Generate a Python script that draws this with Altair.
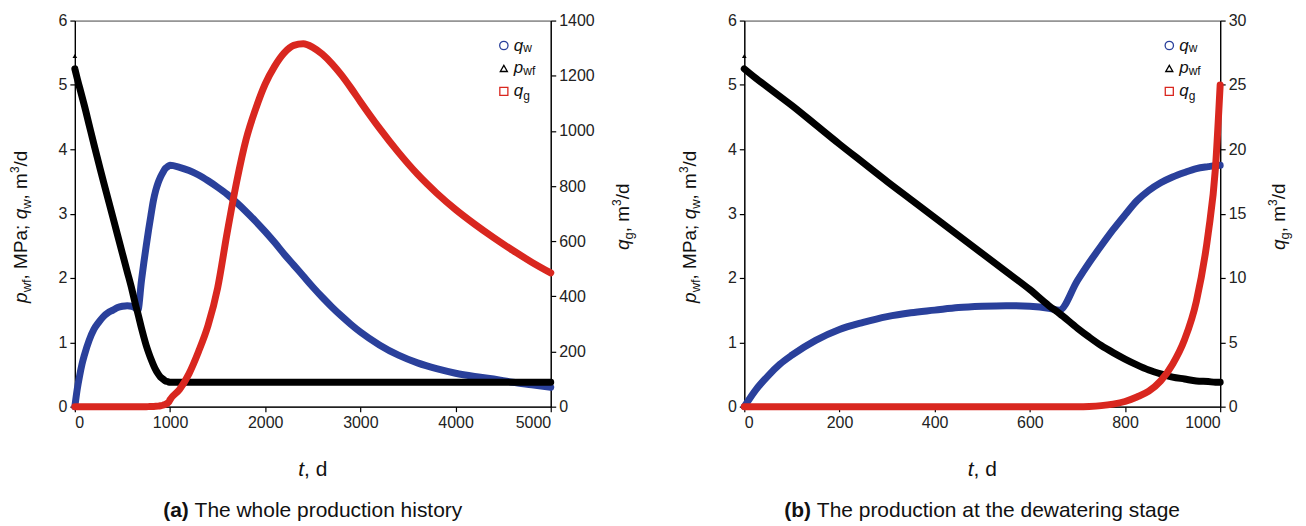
import altair as alt
import pandas as pd

# ---------------- data ----------------
T_DEW = [0, 25, 50, 75, 100, 150, 200, 250, 300, 350, 400, 450, 500, 550, 600,
         640, 662, 700, 725, 750, 775, 800, 825, 850, 875, 900, 925, 950, 975, 990, 1000]
QW_DEW = [0, 0.27, 0.48, 0.66, 0.8, 1.03, 1.2, 1.31, 1.4, 1.46, 1.5, 1.54, 1.56, 1.57, 1.56,
          1.53, 1.5, 1.96, 2.24, 2.5, 2.75, 2.98, 3.2, 3.36, 3.48, 3.57, 3.64, 3.7, 3.73, 3.745, 3.75]
PWF_DEW = [5.25, 5.1, 4.96, 4.82, 4.68, 4.38, 4.08, 3.79, 3.5, 3.22, 2.94, 2.66, 2.38, 2.1, 1.82,
           1.57, 1.45, 1.22, 1.08, 0.95, 0.84, 0.74, 0.65, 0.57, 0.51, 0.46, 0.43, 0.4, 0.39, 0.38, 0.38]
QG_DEW = [0, 0, 0, 0, 0, 0, 0, 0, 0, 0, 0, 0, 0, 0, 0,
          0, 0, 0, 0.02, 0.08, 0.2, 0.4, 0.75, 1.2, 2.0, 3.3, 5.2, 8.2, 13.5, 18.5, 25]

T_LATE = [1100, 1200, 1300, 1400, 1500, 1600, 1700, 1800, 1900, 2000, 2100, 2200, 2300, 2400,
          2500, 2600, 2700, 2800, 2900, 3000, 3200, 3400, 3600, 3800, 4000, 4200, 4400, 4600,
          4800, 5000]
QW_LATE = [3.72, 3.67, 3.6, 3.51, 3.41, 3.3, 3.17, 3.03, 2.88, 2.72, 2.55, 2.37, 2.2, 2.03,
           1.86, 1.7, 1.55, 1.41, 1.28, 1.16, 0.96, 0.8, 0.68, 0.59, 0.52, 0.47, 0.43, 0.38,
           0.34, 0.3]
PWF_LATE = [0.38] * 30
QG_LATE = [62, 120, 200, 295, 430, 630, 815, 970, 1080, 1170, 1235, 1283, 1310, 1316,
           1303, 1278, 1244, 1203, 1156, 1106, 1010, 922, 843, 775, 715, 662, 613, 567,
           524, 485]
PWF_INIT = 5.45

X_TICKS_A = [0, 1000, 2000, 3000, 4000, 5000]
X_TICKS_B = [0, 200, 400, 600, 800, 1000]
Y_TICKS = [0, 1, 2, 3, 4, 5, 6]
QG_TICKS_A = [0, 200, 400, 600, 800, 1000, 1200, 1400]
QG_TICKS_B = [0, 5, 10, 15, 20, 25, 30]

# ---------------- styling ----------------
FONT = "Liberation Sans"
BLUE = "#2a409b"
BLACK = "#000000"
RED = "#d9271f"
TXT = "#111111"
W, H = 477, 387

ONE = pd.DataFrame({"k": [0]})

_REG = {" ": 278, "(": 333, ")": 333, ",": 278, ";": 278, "/": 278, "a": 556, "b": 556,
        "c": 500, "d": 556, "e": 556, "f": 278, "g": 556, "h": 556, "i": 222, "j": 222,
        "k": 500, "l": 222, "m": 833, "n": 556, "o": 556, "p": 556, "q": 556, "r": 333,
        "s": 500, "t": 278, "u": 556, "v": 500, "w": 722, "x": 500, "y": 500, "z": 500,
        "M": 833, "P": 667, "T": 611}
for _d in "0123456789":
    _REG[_d] = 556
_BOLD = {"(": 333, ")": 333, "a": 556, "b": 611}


def tw(text, size, weight):
    tab = _BOLD if weight == "bold" else {}
    return sum(tab.get(c, _REG.get(c, 556)) for c in text) * size / 1000.0


def rich(pieces, x0, y0, vertical=False, center=False):
    total = sum(tw(p[0], p[1], p[3]) for p in pieces)
    pos = -total / 2 if center else 0.0
    out = []
    for text, size, style, weight, shift in pieces:
        lead = len(text) - len(text.lstrip(" "))
        adv_lead = tw(" " * lead, size, weight)
        core = text.strip(" ")
        p0 = pos + adv_lead
        if core:
            if vertical:
                x, y, ang = x0 + shift, y0 - p0, 270
            else:
                x, y, ang = x0 + p0, y0 + shift, 0
            m = alt.Chart(ONE).mark_text(
                text=core, font=FONT, fontSize=size, fontStyle=style, fontWeight=weight,
                align="left", baseline="alphabetic", angle=ang, color=TXT,
            ).encode(x=alt.value(x), y=alt.value(y))
            out.append(m)
        pos += tw(text, size, weight)
    return out


LEFT_TITLE = [("p", 19, "italic", "normal", 0), ("wf", 13, "normal", "normal", 4),
              (", MPa; ", 19, "normal", "normal", 0), ("q", 19, "italic", "normal", 0),
              ("w", 13, "normal", "normal", 4), (", m", 19, "normal", "normal", 0),
              ("3", 12, "normal", "normal", -8), ("/d", 19, "normal", "normal", 0)]
RIGHT_TITLE = [("q", 19, "italic", "normal", 0), ("g", 13, "normal", "normal", 4),
               (", m", 19, "normal", "normal", 0), ("3", 12, "normal", "normal", -8),
               ("/d", 19, "normal", "normal", 0)]
X_TITLE = [("t", 21, "italic", "normal", 0), (", d", 21, "normal", "normal", 0)]
LEG_QW = [("q", 17, "italic", "normal", 0), ("w", 12, "normal", "normal", 2)]
LEG_PWF = [("p", 17, "italic", "normal", 0), ("wf", 12, "normal", "normal", 2)]
LEG_QG = [("q", 17, "italic", "normal", 0), ("g", 12, "normal", "normal", 4)]


def panel(df, xmax, xticks, qgmax, qgticks, caption, leg_x, rt_off):
    xenc = alt.X("t:Q", scale=alt.Scale(domain=[0, xmax], nice=False, zero=False),
                 axis=alt.Axis(values=xticks, title=None, format="d"))
    yscale = alt.Scale(domain=[0, 6], nice=False)
    yaxis = alt.Axis(values=Y_TICKS, title=None, orient="left", format="d")
    lk = dict(strokeWidth=7, strokeCap="round", strokeJoin="round", interpolate="monotone")
    base = alt.Chart(df)
    blue = base.mark_line(color=BLUE, **lk).encode(
        x=xenc, y=alt.Y("qw:Q", scale=yscale, axis=yaxis))
    black = base.mark_line(color=BLACK, **lk).encode(
        x=xenc, y=alt.Y("pwf:Q", scale=yscale, axis=yaxis))
    tri = alt.Chart(pd.DataFrame({"t": [0], "pwf": [PWF_INIT]})).mark_point(
        shape="triangle-up", filled=True, color=BLACK, size=22, opacity=1).encode(
        x=xenc, y=alt.Y("pwf:Q", scale=yscale, axis=yaxis))
    left = alt.layer(blue, black, tri)
    red = base.mark_line(color=RED, **lk).encode(
        x=xenc, y=alt.Y("qg:Q", scale=alt.Scale(domain=[0, qgmax], nice=False),
                        axis=alt.Axis(values=qgticks, title=None, orient="right", format="d")))

    extras = []
    for shape, col, yy, size in [("circle", BLUE, 25, 70), ("triangle-up", BLACK, 48, 50),
                                 ("square", RED, 71, 65)]:
        extras.append(alt.Chart(ONE).mark_point(shape=shape, filled=False, color=col, size=size,
                                                strokeWidth=1.3, opacity=1).encode(
            x=alt.value(leg_x), y=alt.value(yy)))
    extras += rich(LEG_QW, leg_x + 10, 30)
    extras += rich(LEG_PWF, leg_x + 10, 53)
    extras += rich(LEG_QG, leg_x + 10, 76)
    extras += rich(LEFT_TITLE, -48, 283, vertical=True)
    extras += rich(RIGHT_TITLE, W + rt_off, 230, vertical=True)
    extras += rich(X_TITLE, W / 2, 456, center=True)
    extras += rich(caption, W / 2, 498, center=True)

    return alt.layer(left, red, *extras).resolve_scale(y="independent").properties(
        width=W, height=H)


df_a = pd.DataFrame({"t": T_DEW + T_LATE, "qw": QW_DEW + QW_LATE,
                     "pwf": PWF_DEW + PWF_LATE, "qg": QG_DEW + QG_LATE})
df_b = pd.DataFrame({"t": T_DEW, "qw": QW_DEW, "pwf": PWF_DEW, "qg": QG_DEW})

CAP_A = [("(a)", 21, "normal", "bold", 0), (" The whole production history", 21, "normal", "normal", 0)]
CAP_B = [("(b)", 21, "normal", "bold", 0),
         (" The production at the dewatering stage", 21, "normal", "normal", 0)]

pa = panel(df_a, 5000, X_TICKS_A, 1400, QG_TICKS_A, CAP_A, 430, 78)
pb = panel(df_b, 1000, X_TICKS_B, 30, QG_TICKS_B, CAP_B, 426, 65)

chart = alt.hconcat(pa, pb, spacing=194, bounds="flush").properties(
    padding={"left": 0, "top": 3, "right": 5, "bottom": 0}
).configure_axis(
    labelFont=FONT, labelFontSize=16, labelColor="#222222", tickColor="black",
    domainColor="black", domainWidth=1.3, tickWidth=1.2, tickSize=5, grid=False,
    labelPadding=3,
).configure_view(stroke="#444444", strokeWidth=1)

chart.save("out.html", embed_options={"renderer": "svg", "actions": False})
